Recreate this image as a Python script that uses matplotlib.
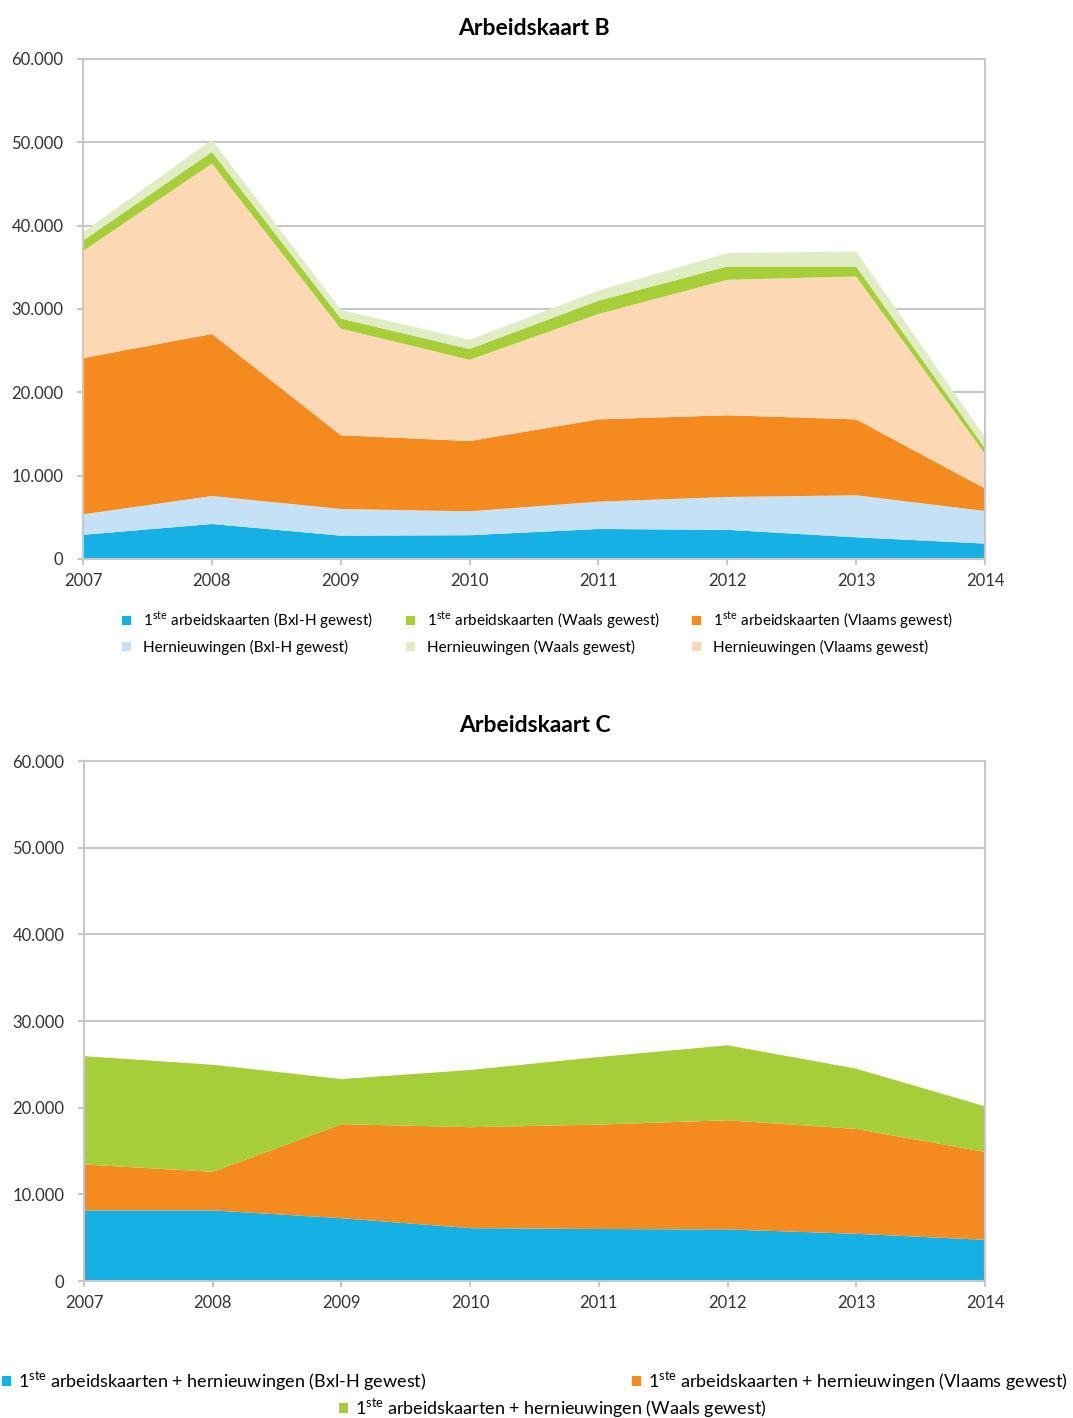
import numpy as np
import matplotlib.pyplot as plt

plt.rcParams['font.family'] = ['Lato', 'DejaVu Sans']
plt.rcParams['mathtext.fontset'] = 'custom'
plt.rcParams['mathtext.rm'] = 'Lato'

years = [2007, 2008, 2009, 2010, 2011, 2012, 2013, 2014]

# Arbeidskaart B (values in thousands)
b_eerste_bxl = [2.9, 4.2, 2.8, 2.85, 3.6, 3.5, 2.6, 1.85]
b_hern_bxl = [2.46, 3.36, 3.2, 2.87, 3.28, 3.94, 5.04, 3.91]
b_eerste_vl = [18.74, 19.44, 8.85, 8.43, 9.87, 9.81, 9.11, 2.69]
b_hern_vl = [12.85, 20.45, 12.8, 9.75, 12.65, 16.25, 17.15, 4.15]
b_eerste_wa = [1.25, 1.4, 1.2, 1.3, 1.6, 1.6, 1.2, 0.7]
b_hern_wa = [1.0, 1.45, 1.05, 1.1, 1.2, 1.6, 1.8, 1.3]

# Arbeidskaart C (values in thousands)
c_bxl = [8.15, 8.15, 7.25, 6.1, 6.0, 5.95, 5.45, 4.75]
c_vl = [5.3, 4.45, 10.85, 11.65, 12.05, 12.6, 12.1, 10.15]
c_wa = [12.5, 12.35, 5.2, 6.6, 7.8, 8.65, 6.95, 5.25]

blue = '#15b1e4'
lblue = '#c5e1f5'
orange = '#f58a1f'
peach = '#fdd8b5'
green = '#a6ce39'
lgreen = '#e0ecc4'
grid = '#c8c8c8'

sup = r'1$^{\mathrm{ste}}$'


def style_axes(ax):
    ax.set_xlim(2007, 2014)
    ax.set_ylim(0, 60000)
    ax.set_yticks(range(0, 60001, 10000))
    ax.set_yticklabels(['0', '10.000', '20.000', '30.000', '40.000', '50.000', '60.000'])
    ax.set_xticks(years)
    ax.set_xticklabels([str(y) for y in years])
    ax.grid(axis='y', color=grid, linewidth=1.5)
    ax.set_axisbelow(True)
    for s in ax.spines.values():
        s.set_color(grid)
        s.set_linewidth(1.5)
    ax.tick_params(axis='both', colors=grid, labelcolor='#333333', labelsize=12,
                   length=4, width=1.5)
    ax.tick_params(axis='y', pad=10)
    ax.tick_params(axis='x', pad=6)


fig = plt.figure(figsize=(10.73, 14.18), dpi=100)

ax1 = fig.add_axes([0.0774, 0.6058, 0.8406, 0.3526])
ax1.stackplot(years,
              np.array(b_eerste_bxl) * 1000, np.array(b_hern_bxl) * 1000,
              np.array(b_eerste_vl) * 1000, np.array(b_hern_vl) * 1000,
              np.array(b_eerste_wa) * 1000, np.array(b_hern_wa) * 1000,
              colors=[blue, lblue, orange, peach, green, lgreen],
              labels=[sup + ' arbeidskaarten (Bxl-H gewest)', 'Hernieuwingen (Bxl-H gewest)',
                      sup + ' arbeidskaarten (Vlaams gewest)', 'Hernieuwingen (Vlaams gewest)',
                      sup + ' arbeidskaarten (Waals gewest)', 'Hernieuwingen (Waals gewest)'])
style_axes(ax1)
ax1.set_title('Arbeidskaart B', fontsize=16.5, fontweight='bold', pad=17)
h, l = ax1.get_legend_handles_labels()
order = [0, 1, 4, 5, 2, 3]
ax1.legend([h[i] for i in order], [l[i] for i in order], ncol=3, frameon=False,
           loc='upper center', bbox_to_anchor=(0.504, -0.074), fontsize=11,
           handlelength=0.6, handleheight=0.6, columnspacing=2.1, labelspacing=0.55)

ax2 = fig.add_axes([0.0783, 0.0966, 0.8397, 0.3667])
ax2.stackplot(years,
              np.array(c_bxl) * 1000, np.array(c_vl) * 1000, np.array(c_wa) * 1000,
              colors=[blue, orange, green],
              labels=[sup + ' arbeidskaarten + hernieuwingen (Bxl-H gewest)',
                      sup + ' arbeidskaarten + hernieuwingen (Vlaams gewest)',
                      sup + ' arbeidskaarten + hernieuwingen (Waals gewest)'])
style_axes(ax2)
ax2.set_title('Arbeidskaart C', fontsize=16.5, fontweight='bold', pad=21)
h, l = ax2.get_legend_handles_labels()

# three legend entries placed like the original (two on top, one centred below)
spots = [('center left', (0.002, 1 - 1381 / 1418)),
         ('center left', (0.589, 1 - 1381 / 1418)),
         ('center', (0.515, 1 - 1408 / 1418))]
for i, (loc, anchor) in enumerate(spots):
    fig.legend([h[i]], [l[i]], loc=loc, bbox_to_anchor=anchor, frameon=False,
               fontsize=13, handlelength=0.5, handleheight=0.5, handletextpad=0.4,
               borderpad=0, borderaxespad=0)

fig.savefig('out.png', dpi=100, facecolor='white')
